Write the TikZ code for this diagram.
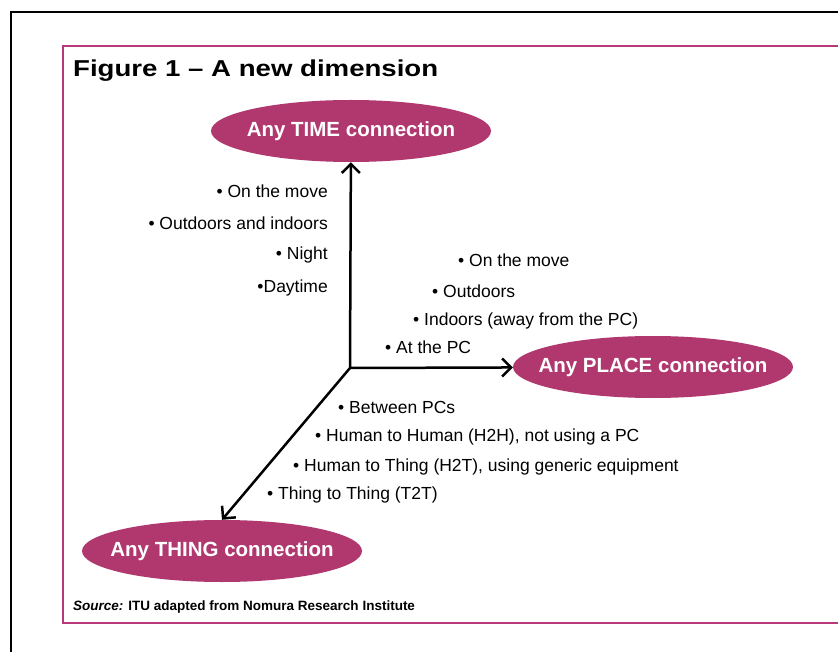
\documentclass[tikz,border=0pt]{standalone}
\usepackage{fontspec}
\setmainfont{Liberation Sans}
\usetikzlibrary{shapes.geometric,arrows.meta}
\definecolor{ellfill}{HTML}{B0386F}
\definecolor{framepink}{HTML}{B8397A}
\newcommand{\bubbletext}[1]{\makebox[0pt]{#1}}
\tikzset{
  bubble/.style={ellipse,fill=ellfill,draw=none,minimum width=280pt,minimum height=62pt,inner sep=0pt,
    text=white,font=\fontsize{20.5}{20.5}\selectfont\bfseries},
  item/.style={inner sep=0pt,font=\fontsize{17.5}{17.5}\selectfont},
  axis/.style={line width=2.5pt,-{Straight Barb[length=9pt,width=18pt]}}
}
\begin{document}
\begin{tikzpicture}[x=1pt,y=-1pt]
\clip (0,0) rectangle (838,652);
\fill[white] (0,0) rectangle (838,652);
% frames
\draw[line width=2pt,black] (11,12) rectangle (860,680);
\draw[line width=2.2pt,framepink] (63,46) rectangle (860,623);
% title
\node[anchor=base west,inner sep=0pt] (title) at (73,77)
  {\scalebox{1.2}[1]{\fontsize{23}{23}\selectfont\bfseries Figure 1 – A new dimension}};
% bubbles
\node[bubble] (time) at (351,131) {\bubbletext{Any TIME connection}};
\node[bubble] (place) at (653,367) {\bubbletext{Any PLACE connection}};
\node[bubble] (thing) at (222,551) {\bubbletext{Any THING connection}};
% axes
\coordinate (O) at (350,368);
\draw[axis] (O) -- (time);
\draw[axis] (O) -- (place);
\draw[axis] (O) -- (thing.north);
% time items
\node[item,anchor=east] (t1) at (328,191) {• On the move};
\node[item,anchor=east] (t2) at (328,223) {• Outdoors and indoors};
\node[item,anchor=east] (t3) at (328,255) {• Night};
\node[item,anchor=east] (t4) at (328,288) {•Daytime};
% place items
\node[item,anchor=west] (p1) at (458,260) {• On the move};
\node[item,anchor=west] (p2) at (432,291) {• Outdoors};
\node[item,anchor=west] (p3) at (413,321) {• Indoors (away from the PC)};
\node[item,anchor=west] (p4) at (385,347) {• At the PC};
% thing items
\node[item,anchor=west] (h1) at (338,407) {• Between PCs};
\node[item,anchor=west] (h2) at (315,437) {• Human to Human (H2H), not using a PC};
\node[item,anchor=west] (h3) at (293,467) {• Human to Thing (H2T), using generic equipment};
\node[item,anchor=west] (h4) at (267,495) {• Thing to Thing (T2T)};
% source
\node[anchor=base west,inner sep=0pt,font=\fontsize{13.5}{13.5}\selectfont\bfseries] (source) at (73,610)
  {\itshape Source:\upshape{} ITU adapted from Nomura Research Institute};
\end{tikzpicture}
\end{document}
